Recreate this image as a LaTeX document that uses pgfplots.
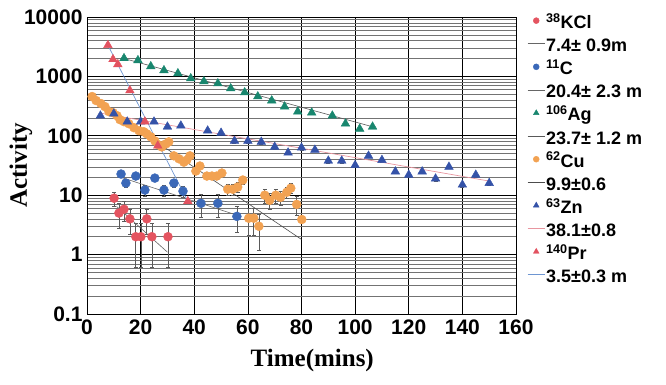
\documentclass[border=0pt]{standalone}
\usepackage{fontspec}
\setmainfont{Liberation Sans}
\newfontfamily\serifbold{Liberation Serif}
\usepackage{pgfplots}
\usepackage{pgfplotstable}
\pgfplotsset{compat=1.18}
\definecolor{kclc}{RGB}{228,84,96}
\definecolor{cc}{RGB}{58,104,184}
\definecolor{agc}{RGB}{24,134,110}
\definecolor{cuc}{RGB}{242,162,82}
\definecolor{znc}{RGB}{52,82,168}
\definecolor{prc}{RGB}{226,82,96}
\definecolor{ebar}{RGB}{90,90,90}
\definecolor{znfit}{RGB}{232,150,160}
\definecolor{prfit}{RGB}{110,150,210}
\newcommand{\ls}{\rule[-4.6pt]{0pt}{22pt}}

\pgfplotstableread{
x y e
10.1 8.9 2.5
11.9 5.0 2.2
13.8 5.8 2.2
16.0 4.0 1.8
18.2 2.0 1.4
20.1 2.0 1.4
22.3 4.0 1.8
24.2 2.0 1.4
30.2 2.0 1.4
}\kcl

\pgfplotstableread{
x y e
12.7 22.7 2.5
14.5 16.0 2.5
18.2 21.0 2.5
21.6 12.2 2.5
25.3 19.4 2.5
28.7 12.2 2.5
32.4 16.0 2.5
35.8 11.7 2.5
42.5 7.3 3.0
48.8 7.3 3.0
55.9 4.4 2.0
}\carbon

\pgfplotstableread{
x y
13.8 2019
19.0 1866
23.8 1477
28.7 1264
33.9 1124
38.7 925
43.6 823
48.8 761
53.6 626
58.8 536
63.7 459
68.9 392
73.7 310
78.6 255
83.8 245
91.5 218
96.4 160
101.7 131
106.5 142
}\silver

\pgfplotstableread{
x y e
1.9 458 25
3.4 392 22
5.2 349 20
6.7 310 18
8.2 255 15
9.7 245 15
11.2 218 13
12.3 187 12
13.8 173 11
15.6 160 10
17.5 137 9
19.4 122 8
21.2 117 8
22.3 108 7
23.8 96 7
25.3 82 6
26.8 70 6
27.9 65 5
29.4 73 6
30.5 79 6
32.4 46 4
34.3 41 4
36.1 36 4
37.2 39 4
38.4 46 4
40.6 25.5 3
42.1 31 3
44.7 21 2.5
46.6 21 2.5
48.4 21 2.5
50.3 23.6 2.5
52.5 12.6 2.5
54.4 12.6 2.5
56.2 13.7 2.5
58.1 18 2.5
60.3 4.1 2
62.2 4.1 2
64.1 3.0 1.8
66.3 10 2.8
68.1 8.2 2.5
70.4 10 2.8
72.2 9.2 2.5
74.5 11.2 2.5
76.0 13.1 2.5
78.2 7.0 2.5
80.1 3.9 0
}\copper

\pgfplotstableread{
x y e
5 218 15
10 236 15
15 173 12
20 173 12
25 173 12
30 142 10
35 148 10
45 122 9
50 112 8
55 82 6
60 82 6
65 79 6
70 65 5
75 52 4
80 63 5
85 58 4
90 38 3
95 38 3
100 32 3
105 46 3
110 39 3
115 25 2
120 22 2
125 25 2
130 19 2
135 30 2
140 15 1.5
145 22 2
150 16 1.5
}\zinc

\pgfplotstableread{
x y
7.8 3352
9.7 1941
11.5 1597
16.0 579
21.6 173
26.4 68
37.6 7.9
}\praseo

\begin{document}
\begin{tikzpicture}
\path[use as bounding box] (0,0) rectangle (666pt,385pt);
\begin{axis}[
  at={(87pt,71pt)}, anchor=south west,
  width=429pt, height=297pt, scale only axis,
  ymode=log, log basis y=10,
  xmin=0, xmax=160, ymin=0.1, ymax=10000,
  xtick={0,20,...,160},
  ytick={0.1,1,10,100,1000,10000},
  yticklabels={0.1,1,10,100,1000,10000},
  minor ytick={0.2,0.3,0.4,0.5,0.6,0.7,0.8,0.9,2,3,4,5,6,7,8,9,20,30,40,50,60,70,80,90,200,300,400,500,600,700,800,900,2000,3000,4000,5000,6000,7000,8000,9000},
  minor x tick num=0,
  grid=both,
  major grid style={black, line width=0.6pt},
  minor grid style={black!55, line width=0.5pt},
  major tick length=0pt, minor tick length=0pt,
  axis line style={black, line width=0.9pt},
  /pgf/number format/assume math mode=true,
  ticklabel style={font=\bfseries\fontsize{21}{21}\selectfont},
  xticklabel style={yshift=-2pt},
  yticklabel style={xshift=-1pt},
  xlabel={Time(mins)},
  ylabel={Activity},
  label style={font=\serifbold\bfseries\fontsize{25}{25}\selectfont},
  xlabel style={at={(axis description cs:0.525,-0.155)}, anchor=center},
  ylabel style={at={(axis description cs:-0.154,0.5)}, anchor=center, rotate=0},
  legend style={at={(rel axis cs:1.026,1.0236)}, anchor=north west, draw=none, fill=none,
    font=\bfseries\fontsize{18}{18}\selectfont, row sep=2.2pt, inner sep=0pt,
    nodes={inner sep=1pt}},
  legend cell align=left,
  error bars/error bar style={ebar, line width=0.6pt},
  error bars/error mark options={ebar, rotate=90, mark size=2pt, line width=0.6pt},
]
% 38KCl
\addplot[only marks, mark=*, color=kclc, mark size=4.5pt,
  legend image post style={mark size=3pt},
  error bars/.cd, y dir=both, y explicit]
  table[x=x, y=y, y error=e] {\kcl};
\addlegendentry{\ls\textsuperscript{38}KCl}
\addplot[black!60, line width=0.6pt] coordinates {(11,6.5) (30,1.1)};
\addlegendentry{\ls 7.4± 0.9m}
% 11C
\addplot[only marks, mark=*, color=cc, mark size=4.5pt,
  legend image post style={mark size=3pt},
  error bars/.cd, y dir=both, y explicit]
  table[x=x, y=y, y error=e] {\carbon};
\addlegendentry{\ls\textsuperscript{11}C}
\addplot[black!60, line width=0.6pt] coordinates {(12.7,20) (56,4.6)};
\addlegendentry{\ls 20.4± 2.3 m}
% 106Ag
\addplot[only marks, mark=triangle*, color=agc, mark size=5pt,
  legend image post style={mark size=3.3pt}]
  table[x=x, y=y] {\silver};
\addlegendentry{\ls\textsuperscript{106}Ag}
\addplot[black!65, line width=0.6pt] coordinates {(13.8,2000) (107,140)};
\addlegendentry{\ls 23.7± 1.2 m}
% 62Cu
\addplot[only marks, mark=*, color=cuc, mark size=4.5pt,
  legend image post style={mark size=3pt},
  error bars/.cd, y dir=both, y explicit]
  table[x=x, y=y, y error=e] {\copper};
\addlegendentry{\ls\textsuperscript{62}Cu}
\addplot[black!70, line width=0.6pt] coordinates {(2,420) (80,1.8)};
\addlegendentry{\ls 9.9±0.6}
% 63Zn
\addplot[only marks, mark=triangle*, color=znc, mark size=5pt,
  legend image post style={mark size=3.3pt},
  error bars/.cd, y dir=minus, y explicit]
  table[x=x, y=y, y error=e] {\zinc};
\addlegendentry{\ls\textsuperscript{63}Zn}
\addplot[znfit, line width=0.7pt] coordinates {(5,241) (150,17.3)};
\addlegendentry{\ls 38.1±0.8}
% 140Pr
\addplot[only marks, mark=triangle*, color=prc, mark size=5pt,
  legend image post style={mark size=3.3pt}]
  table[x=x, y=y] {\praseo};
\addlegendentry{\ls\textsuperscript{140}Pr}
\addplot[prfit, line width=0.7pt] coordinates {(7.8,3352) (37.6,7.9)};
\addlegendentry{\ls 3.5±0.3 m}
\end{axis}
\end{tikzpicture}
\end{document}
